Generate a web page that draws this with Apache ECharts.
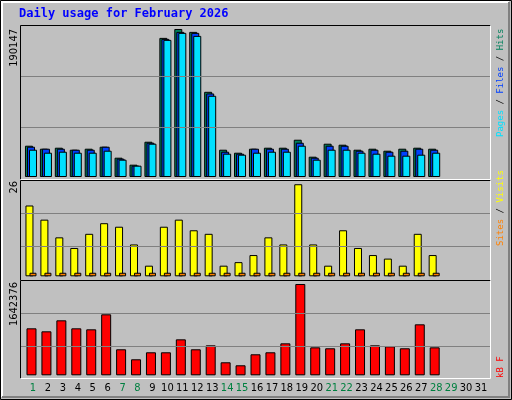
<!DOCTYPE html>
<html><head><meta charset="utf-8">
<script src="https://cdn.jsdelivr.net/npm/echarts@6/dist/echarts.min.js"></script>
<style>html,body{margin:0;padding:0;background:#c0c0c0}#c{width:512px;height:400px}</style>
</head><body><div id="c"></div>
<script>
const days = Array.from({length:31},(_,i)=>String(i+1));
const weekend = [1,7,8,14,15,21,22,28,29];
const hits  = [40194,36346,37629,35063,36346,38912,24801,15821,45326,178737,190147,186434,109466,35063,31215,36346,37629,37629,47891,26084,42760,41477,35063,36346,33780,36346,37629,36346];
const files = [38912,36346,36346,35063,35063,38912,23518,14538,44043,177454,186434,185151,107328,32498,29932,36346,36346,36346,44043,24801,40194,40194,33780,35063,32498,33780,36346,35063];
const pages = [35063,31215,32498,31215,31215,33780,22235,14538,42760,176171,185151,181302,104334,29932,28649,31215,32498,32498,40194,22235,35063,35063,31215,29932,27366,27366,28649,31215];
const visits = [20,16,11,8,12,15,14,9,3,14,16,13,12,3,4,6,11,9,26,9,3,13,8,6,5,3,12,6];
const sites = [1,1,1,1,1,1,1,1,1,1,1,1,1,1,1,1,1,1,1,1,1,1,1,1,1,1,1,1];
const kbytes = [845000,791000,989000,845000,827000,1097000,468000,288000,414000,414000,647000,468000,539000,234000,180000,378000,414000,575000,1642376,503000,486000,575000,827000,539000,521000,486000,917000,503000];
const yLabels = ['190147','26','1642376'];

const F = 'DejaVu Sans Condensed';
const M = '9px "DejaVu Sans Mono"';
const xs = (arr, off) => arr.map((v,i)=>[i+1+off, v]);
const xmin = 0.13, xmax = 31.67;
function grid(top,h){return {left:20,width:471,top:top,height:h,show:false};}
function xa(g){return {type:'value',gridIndex:g,min:xmin,max:xmax,show:false};}
function ya(g,max){return {type:'value',gridIndex:g,min:0,max:max,show:false};}
function gl(vals){return {silent:true,symbol:'none',label:{show:false},lineStyle:{color:'#808080',type:'solid',width:1},data:vals.map(v=>({yAxis:v}))};}
const bs = {borderColor:'#000',borderWidth:1};
function bar(g,data,off,color,w,extra){return Object.assign({type:'bar',xAxisIndex:g,yAxisIndex:g,data:xs(data,off),barWidth:w,barGap:'-100%',itemStyle:Object.assign({color:color},bs),silent:true,animation:false},extra||{});}

const chart = echarts.init(document.getElementById('c'));
function frame(x1,y1,x2,y2){return [
 {type:'polyline',shape:{points:[[x1,y2],[x1,y1],[x2,y1]]},style:{stroke:'#000',fill:null,lineWidth:1},z:10},
 {type:'polyline',shape:{points:[[x2,y1],[x2,y2],[x1,y2]]},style:{stroke:'#fff',fill:null,lineWidth:1},z:10}];}
chart.setOption({
 animation:false,
 backgroundColor:'#c0c0c0',
 grid:[grid(25,152),grid(180,96.3),grid(280.3,95),{left:25.5,width:463,top:378,height:1,show:false}],
 xAxis:[xa(0),xa(1),xa(2),{type:'category',gridIndex:3,data:days,axisLine:{show:false},axisTick:{show:false},
   axisLabel:{interval:0,margin:4,fontFamily:F,fontSize:11,color:(v)=>weekend.includes(+v)?'#008040':'#000'}}],
 yAxis:[ya(0,195286),ya(1,27.2),ya(2,1708933),{type:'value',gridIndex:3,show:false}],
 series:[
  bar(0,hits,-0.27,'#00805c',8,{markLine:gl([64236,129750])}),
  bar(0,files,-0.134,'#0040ff',8),
  bar(0,pages,0,'#00e0ff',8),
  bar(1,visits,-0.27,'#ffff00',8,{markLine:gl([8.5,17.8])}),
  bar(1,sites,0,'#ff8000',7),
  bar(2,kbytes,-0.1,'#ff0000',10,{markLine:gl([521700,1115000])}),
  {type:'bar',xAxisIndex:3,yAxisIndex:3,data:[]}
 ],
 graphic:[
  {type:'polyline',shape:{points:[[0.5,399.5],[0.5,0.5],[511.5,0.5],[511.5,399.5],[0.5,399.5]]},style:{stroke:'#000',fill:null,lineWidth:1}},
  {type:'polyline',shape:{points:[[2,397],[2,2],[509,2]]},style:{stroke:'#fff',fill:null,lineWidth:2}},
  {type:'polyline',shape:{points:[[509,2],[509,397],[2,397]]},style:{stroke:'#808080',fill:null,lineWidth:2}},
  ...frame(20.5,25.5,490.5,179.5),
  ...frame(20.5,180.5,490.5,280.5),
  ...frame(20.5,280.5,490.5,378.5),
  {type:'text',left:19,top:8,style:{text:'Daily usage for February 2026',font:'bold 12px "DejaVu Sans Mono"',fill:'#0000ff'}},
  {type:'text',x:9,y:29,rotation:Math.PI/2,style:{text:yLabels[0],font:'11px '+F,fill:'#000',align:'right',verticalAlign:'top'}},
  {type:'text',x:9,y:181,rotation:Math.PI/2,style:{text:yLabels[1],font:'11px '+F,fill:'#000',align:'right',verticalAlign:'top'}},
  {type:'text',x:9,y:282,rotation:Math.PI/2,style:{text:yLabels[2],font:'11px '+F,fill:'#000',align:'right',verticalAlign:'top'}},
  {type:'text',x:496,y:137,rotation:Math.PI/2,style:{text:'{p|Pages} {s|/} {f|Files} {s|/} {h|Hits}',font:M,align:'left',verticalAlign:'top',
    rich:{p:{fill:'#00e0ff',font:M},f:{fill:'#0040ff',font:M},h:{fill:'#00805c',font:M},s:{fill:'#000',font:M}}}},
  {type:'text',x:496,y:246,rotation:Math.PI/2,style:{text:'{a|Sites} {s|/} {b|Visits}',font:M,align:'left',verticalAlign:'top',
    rich:{a:{fill:'#ff8000',font:M},b:{fill:'#ffff00',font:M},s:{fill:'#000',font:M}}}},
  {type:'text',x:496,y:378,rotation:Math.PI/2,style:{text:'kB F',font:M,fill:'#ff0000',align:'left',verticalAlign:'top'}}
 ]
});
</script></body></html>
